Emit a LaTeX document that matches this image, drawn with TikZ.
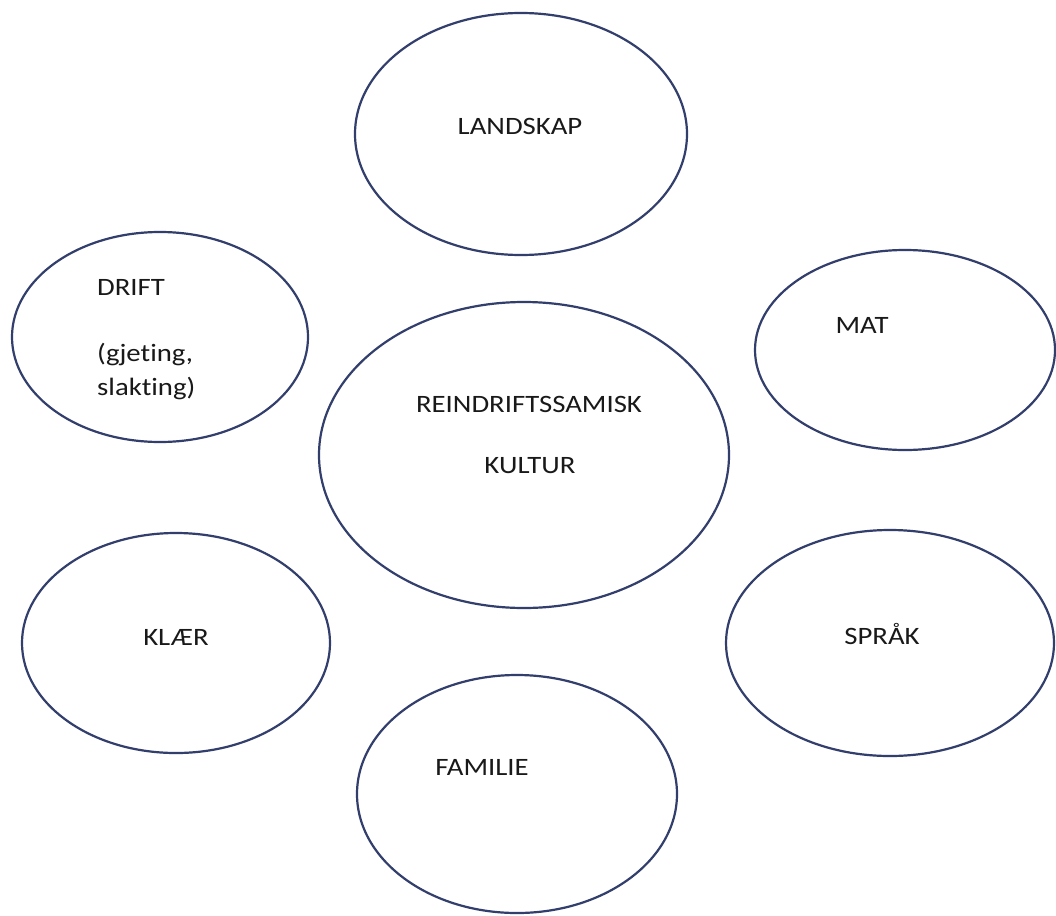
\documentclass[tikz,border=0pt]{standalone}
\usepackage{fontspec}
\setmainfont[Ligatures=NoCommon]{Carlito}
\usetikzlibrary{shapes.geometric}
\definecolor{ringblue}{RGB}{50,62,108}
\tikzset{
  bubble/.style={draw=ringblue, line width=2.2pt, ellipse, inner sep=0pt, fill=white},
  lbl/.style={inner sep=0pt, anchor=base, font=\fontsize{25}{25}\selectfont, text=black!90}
}
\newcommand{\wide}[1]{\scalebox{1.15}[1]{#1}}
\begin{document}
\begin{tikzpicture}[x=1pt,y=-1pt]
\useasboundingbox[fill=white] (0,0) rectangle (1056,915);
% ellipses
\node[bubble, minimum width=332pt, minimum height=242pt] (land) at (521,134) {};
\node[bubble, minimum width=300pt, minimum height=200pt] (mat) at (905,350) {};
\node[bubble, minimum width=296pt, minimum height=210pt] (drift) at (160,337) {};
\node[bubble, minimum width=410pt, minimum height=306pt] (kultur) at (524,455) {};
\node[bubble, minimum width=308pt, minimum height=220pt] (klaer) at (176,643) {};
\node[bubble, minimum width=328pt, minimum height=226pt] (sprak) at (890,643) {};
\node[bubble, minimum width=320pt, minimum height=238pt] (familie) at (517,794) {};
% labels
\node[lbl] (tland) at (520,135) {\wide{LANDSKAP}};
\node[lbl] (tmat) at (862,333) {\wide{MAT}};
\node[lbl, anchor=base west] (tdrift) at (97,295) {\wide{DRIFT}};
\node[lbl, anchor=base west] (tdrift2) at (97,361) {\wide{(gjeting,}};
\node[lbl, anchor=base west] (tdrift3) at (97,395) {\wide{slakting)}};
\node[lbl] (tkultur1) at (529,412) {\wide{REINDRIFTSSAMISK}};
\node[lbl] (tkultur2) at (530,473) {\wide{KULTUR}};
\node[lbl] (tklaer) at (176,645) {\wide{KLÆR}};
\node[lbl] (tsprak) at (882,644) {\wide{SPRÅK}};
\node[lbl] (tfam) at (482,775) {\wide{FAMILIE}};
\end{tikzpicture}
\end{document}
